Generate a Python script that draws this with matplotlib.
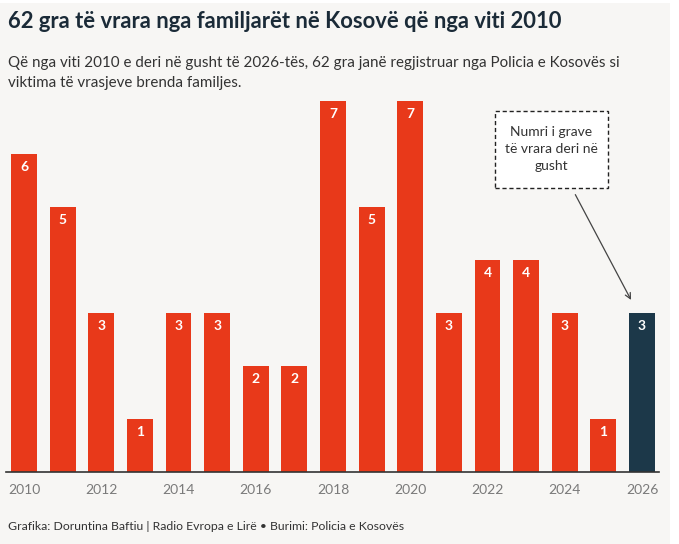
import matplotlib
matplotlib.use("Agg")
import matplotlib.pyplot as plt
from matplotlib.patches import Rectangle

# data
years = list(range(2010, 2027))
victims = [6, 5, 3, 1, 3, 3, 2, 2, 7, 5, 7, 3, 4, 4, 3, 1, 3]
tick_years = list(range(2010, 2027, 2))

title = "62 gra të vrara nga familjarët në Kosovë që nga viti 2010"
subtitle = ("Që nga viti 2010 e deri në gusht të 2026-tës, 62 gra janë regjistruar nga Policia e Kosovës si\n"
            "viktima të vrasjeve brenda familjes.")
note = "Numri i grave\ntë vrara deri në\ngusht"
footer = "Grafika: Doruntina Baftiu | Radio Evropa e Lirë • Burimi: Policia e Kosovës"

RED = "#e8391a"
NAVY = "#1c3849"
BG = "#f7f6f4"
W, H = 679, 544

plt.rcParams['font.family'] = ['Lato', 'DejaVu Sans']

fig = plt.figure(figsize=(W / 100, H / 100), dpi=100, facecolor="white")
# light panel behind everything
fig.patches.append(Rectangle((0, 0), 670 / W, 541 / H, transform=fig.transFigure,
                             facecolor=BG, edgecolor="none", zorder=-10))

# axes placed in pixels
left, right, top, base = 6.5, 659, 101, 472
ax = fig.add_axes([left / W, (H - base) / H, (right - left) / W, (base - top) / H])
ax.set_facecolor("none")
ax.set_xlim(2009.547, 2026.44)
ax.set_ylim(0, 7)

colors = [RED] * (len(years) - 1) + [NAVY]
ax.bar(years, victims, width=0.67, color=colors, zorder=2)
for x, v in zip(years, victims):
    ax.annotate(str(v), (x, v), xytext=(0, -13), textcoords="offset pixels",
                ha="center", va="center", color="white", fontsize=10, fontweight="bold")

for s in ["top", "right", "left"]:
    ax.spines[s].set_visible(False)
ax.spines["bottom"].set_color("#333333")
ax.spines["bottom"].set_linewidth(1.2)
ax.set_yticks([])
ax.set_xticks(tick_years)
ax.set_xticklabels([str(y) for y in tick_years])
ax.tick_params(axis="x", length=0, pad=9, labelsize=10, labelcolor="#7a7a7a")

# texts
fig.text(8 / W, 1 - 22 / H, title, fontsize=15.8, fontweight="bold", color="#1b2b38",
         va="center", ha="left")
fig.text(8 / W, 1 - 73 / H, subtitle, fontsize=10.9, color="#333333",
         va="center", ha="left", linespacing=1.55)
fig.text(8 / W, 1 - 526 / H, footer, fontsize=8.8, color="#333333", va="center", ha="left")

# annotation box
fig.patches.append(Rectangle((495 / W, 1 - 188 / H), 113 / W, 77 / H, transform=fig.transFigure,
                             facecolor="white", edgecolor="#222222", linestyle=(0, (3, 2)),
                             linewidth=1.0, zorder=3))
fig.text(551.5 / W, 1 - 149 / H, note, fontsize=10, color="#333333", ha="center", va="center",
         linespacing=1.45, zorder=4)
ax.annotate("", xy=(years[-1] - 0.25, victims[-1] + 0.2), xytext=(2024.24, 5.28),
            arrowprops=dict(arrowstyle="->", color="#444444", lw=0.9), annotation_clip=False)

fig.savefig("out.png", dpi=100, facecolor="white")
